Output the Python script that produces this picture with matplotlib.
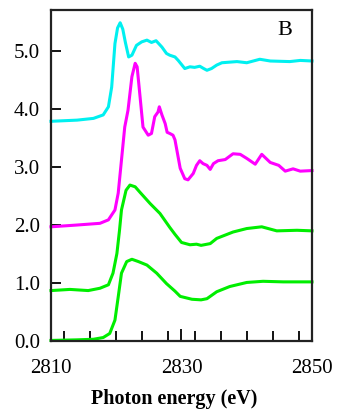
import numpy as np
import matplotlib
matplotlib.use("Agg")
import matplotlib.pyplot as plt
from matplotlib.ticker import MultipleLocator, FixedLocator, FormatStrFormatter

# spectra (offset already included)
cyan_e = [2810, 2814, 2816.5, 2818.0, 2818.8, 2819.3, 2819.8, 2820.2, 2820.6, 2821.0, 2821.4,
          2821.9, 2822.4, 2823.1, 2823.9, 2824.7, 2825.4, 2826.1, 2827.0, 2827.7, 2828.2, 2829.0,
          2829.5, 2830.5, 2831.3, 2832.0, 2832.8, 2833.4, 2833.9, 2834.6, 2835.4, 2836.2, 2838.5,
          2840.0, 2842.0, 2843.6, 2846.6, 2848.2, 2850]
cyan_y = [3.79, 3.81, 3.84, 3.90, 4.04, 4.38, 5.13, 5.40, 5.49, 5.38, 5.15,
          4.90, 4.93, 5.10, 5.16, 5.19, 5.15, 5.18, 5.07, 4.96, 4.93, 4.90,
          4.84, 4.70, 4.73, 4.72, 4.74, 4.70, 4.67, 4.70, 4.76, 4.80, 4.82,
          4.80, 4.86, 4.83, 4.82, 4.84, 4.83]

mag_e = [2810, 2813.9, 2817.5, 2818.8, 2819.8, 2820.3, 2820.8, 2821.3, 2821.8, 2822.4, 2822.9,
         2823.2, 2823.6, 2824.1, 2824.9, 2825.4, 2825.9, 2826.4, 2826.6, 2827.0, 2827.5, 2827.8,
         2828.2, 2828.7, 2829.0, 2829.8, 2830.5, 2831.0, 2831.8, 2832.3, 2832.8, 2833.3, 2833.9,
         2834.4, 2834.9, 2835.6, 2836.7, 2837.9, 2839.0, 2840.0, 2841.3, 2842.3, 2843.6, 2844.9,
         2845.9, 2847.1, 2848.2, 2850]
mag_y = [1.97, 2.00, 2.03, 2.09, 2.26, 2.55, 3.12, 3.69, 3.98, 4.56, 4.79,
         4.73, 4.27, 3.69, 3.55, 3.58, 3.87, 3.95, 4.04, 3.90, 3.75, 3.60,
         3.58, 3.55, 3.47, 2.98, 2.80, 2.78, 2.89, 3.03, 3.11, 3.06, 3.03,
         2.96, 3.06, 3.11, 3.13, 3.23, 3.22, 3.15, 3.05, 3.22, 3.08, 3.03,
         2.93, 2.97, 2.93, 2.94]

g1_e = [2810, 2812.9, 2815.7, 2817.5, 2818.8, 2819.5, 2820.1, 2820.5, 2820.8, 2821.5, 2822.1,
        2822.9, 2823.6, 2825.2, 2826.7, 2828.2, 2829.0, 2830.0, 2831.3, 2832.3, 2833.0, 2834.4,
        2835.4, 2837.9, 2840.0, 2842.3, 2844.6, 2847.7, 2850]
g1_y = [0.87, 0.89, 0.87, 0.91, 0.97, 1.17, 1.51, 1.91, 2.26, 2.60, 2.69,
        2.66, 2.57, 2.37, 2.20, 1.96, 1.84, 1.70, 1.66, 1.67, 1.65, 1.68,
        1.77, 1.88, 1.94, 1.97, 1.90, 1.91, 1.90]

g0_e = [2810, 2813.9, 2816.5, 2818.0, 2819.0, 2819.8, 2820.3, 2820.8, 2821.6, 2822.4, 2823.4,
        2824.7, 2826.2, 2827.7, 2829.0, 2829.8, 2831.6, 2833.0, 2833.9, 2835.4, 2837.4, 2840.0,
        2842.5, 2845.6, 2850]
g0_y = [0.01, 0.02, 0.03, 0.06, 0.13, 0.36, 0.76, 1.17, 1.37, 1.41, 1.37,
        1.31, 1.17, 0.99, 0.86, 0.77, 0.72, 0.71, 0.73, 0.85, 0.94, 1.01,
        1.03, 1.02, 1.02]

x_labels = [2810, 2830, 2850]

plt.rcParams['font.family'] = ['Liberation Serif', 'DejaVu Serif']

fig = plt.figure(figsize=(3.43, 4.11), dpi=100)
ax = fig.add_axes([0.1487, 0.1703, 0.7609, 0.8054])

lw = 2.2
ax.plot(cyan_e, cyan_y, color='#00f0f0', lw=lw, clip_on=False, solid_joinstyle='round')
ax.plot(mag_e, mag_y, color='#ff00ff', lw=lw, clip_on=False, solid_joinstyle='round')
ax.plot(g1_e, g1_y, color='#00ee00', lw=lw, clip_on=False, solid_joinstyle='round')
ax.plot(g0_e, g0_y, color='#00ee00', lw=lw, clip_on=False, solid_joinstyle='round')

ax.set_xlim(2810, 2850)
ax.set_ylim(0, 5.71)
ax.xaxis.set_major_locator(FixedLocator(x_labels))
ax.xaxis.set_minor_locator(MultipleLocator(4))
ax.yaxis.set_major_locator(MultipleLocator(1.0))
ax.yaxis.set_major_formatter(FormatStrFormatter('%.1f'))

ax.tick_params(axis='x', which='major', direction='in', length=9, width=1.3, pad=13, labelsize=15)
ax.tick_params(axis='x', which='minor', direction='in', length=7, width=1.3)
ax.tick_params(axis='y', which='major', direction='in', length=7, width=1.3, pad=8, labelsize=15)
for s in ax.spines.values():
    s.set_linewidth(1.6)
    s.set_color('#222222')

ax.set_xlabel('Photon energy (eV)', fontsize=14.5, fontweight='bold')
ax.xaxis.set_label_coords(0.471, -0.145)
ax.text(0.894, 0.938, 'B', transform=ax.transAxes, fontsize=16, ha='center', va='center')

fig.savefig('out.png', dpi=100)
